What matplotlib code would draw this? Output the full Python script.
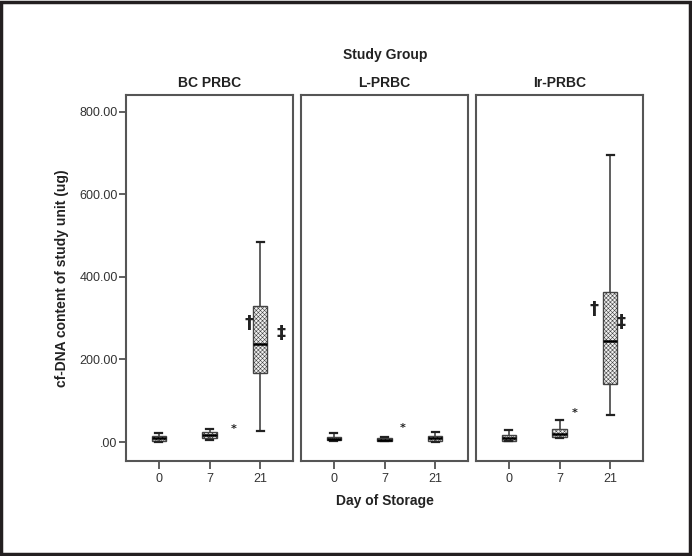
import numpy as np
import matplotlib
matplotlib.use("Agg")
import matplotlib.pyplot as plt
from matplotlib.patches import Rectangle

plt.rcParams['font.family'] = ['Liberation Sans', 'DejaVu Sans']
plt.rcParams['hatch.color'] = '#9a9a9a'
plt.rcParams['hatch.linewidth'] = 0.4

# Data (ug)
groups = ["BC PRBC", "L-PRBC", "Ir-PRBC"]
days = ["0", "7", "21"]

# per group: [day0, day7, day21] -> (whislo, q1, median, q3, whishi)
bc_stats = [(0, 3, 9, 15, 23), (5, 10, 18, 25, 32), (27, 167, 238, 330, 485)]
l_stats = [(2, 4, 8, 12, 22), (2, 3, 6, 9, 11), (0, 3, 9, 15, 24)]
ir_stats = [(2, 3, 9, 17, 29), (10, 12, 20, 32, 54), (66, 141, 245, 364, 696)]

# annotation marks: (symbol, x position in category units, value)
bc_marks = [("*", 1.48, 32), ("\u2020", 1.78, 288), ("\u2021", 2.42, 264)]
l_marks = [("*", 1.36, 34)]
ir_marks = [("*", 1.30, 70), ("\u2020", 1.68, 322), ("\u2021", 2.22, 292)]

all_stats = [bc_stats, l_stats, ir_stats]
all_marks = [bc_marks, l_marks, ir_marks]

fig = plt.figure(figsize=(6.92, 5.56), dpi=100)

lefts = [126, 301, 476]
for i, name in enumerate(groups):
    ax = fig.add_axes([lefts[i] / 692, (556 - 461) / 556,
                       167 / 692, (461 - 95) / 556])
    stats = []
    for s in all_stats[i]:
        stats.append(dict(whislo=s[0], q1=s[1], med=s[2], q3=s[3], whishi=s[4], fliers=[]))
    ax.bxp(stats, positions=[0, 1, 2], widths=0.28, capwidths=0.14,
           patch_artist=True, showfliers=False,
           boxprops=dict(facecolor='#f0f0f0', edgecolor='#444444', linewidth=1.0, hatch='xxxxxxxx'),
           whiskerprops=dict(color='#444444', linewidth=1.2),
           capprops=dict(color='#222222', linewidth=1.6),
           medianprops=dict(color='black', linewidth=1.8))
    for sym, xp, val in all_marks[i]:
        size = 8 if sym == "*" else 13
        ax.text(xp, val, sym, ha='center', va='center', fontsize=size,
                fontweight='bold', color='#222222', family=['DejaVu Sans'])
    ax.set_xlim(-0.65, 2.65)
    ax.set_ylim(-46, 841)
    ax.set_xticks([0, 1, 2])
    ax.set_xticklabels(days, fontsize=9, color='#333333')
    ax.tick_params(axis='x', direction='out', length=6, width=1.2, color='#444444', pad=3)
    if i == 0:
        ax.set_yticks([0, 200, 400, 600, 800])
        ax.set_yticklabels([".00", "200.00", "400.00", "600.00", "800.00"],
                           fontsize=9, color='#333333')
        ax.tick_params(axis='y', direction='out', length=5, width=1.2, color='#444444', pad=1)
    else:
        ax.set_yticks([])
    for sp in ax.spines.values():
        sp.set_color('#555555')
        sp.set_linewidth(1.5)
    ax.set_title(name, fontsize=10, fontweight='bold', pad=6, color='#222222')

fig.text(385 / 692, 1 - 55 / 556, "Study Group", ha='center', va='center',
         fontsize=10, fontweight='bold', color='#222222')
fig.text(385 / 692, 1 - 501 / 556, "Day of Storage", ha='center', va='center',
         fontsize=10, fontweight='bold', color='#222222')
fig.text(62 / 692, 1 - 278 / 556, "cf-DNA content of study unit (ug)", ha='center',
         va='center', rotation=90, fontsize=10, fontweight='bold', color='#222222')

# outer frame
fig.patches.append(Rectangle((0.002, 0.003), 0.995, 0.994, transform=fig.transFigure,
                             fill=False, edgecolor='#231f20', linewidth=2.5))

fig.savefig("out.png", dpi=100)
